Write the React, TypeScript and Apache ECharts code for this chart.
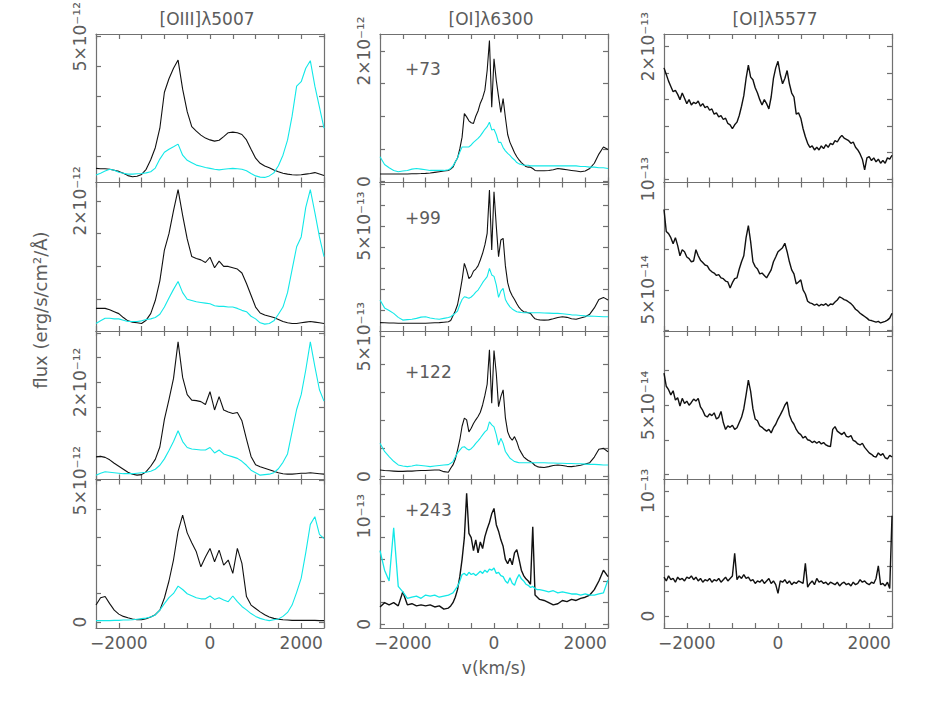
import React, { useEffect, useRef } from 'react';
import * as echarts from 'echarts';

// velocity sampling grids (km/s)
const range = (a: number, b: number, s: number) => {
  const out: number[] = [];
  for (let v = a; v <= b + 1e-9; v += s) out.push(Math.round(v));
  return out;
};
const V1 = range(-2500, 2500, 100);
const V2 = [...range(-2500, -1100, 100), ...range(-1000, 1000, 50), ...range(1100, 2500, 100)];
const V3 = range(-2500, 2500, 50);

// [OIII] 5007, units 1e-12
const c1r1Black = [0.61, 0.60, 0.60, 0.58, 0.55, 0.51, 0.45, 0.37, 0.33, 0.35,
  0.41, 0.58, 0.9, 1.3, 1.95, 3.15, 3.6, 3.95, 4.22, 3.25,
  2.5, 2.0, 1.85, 1.72, 1.62, 1.56, 1.52, 1.55, 1.67, 1.8,
  1.82, 1.8, 1.74, 1.56, 1.25, 0.95, 0.78, 0.69, 0.63, 0.56,
  0.5, 0.45, 0.42, 0.4, 0.39, 0.4, 0.42, 0.44, 0.47, 0.42, 0.37];
const c1r1Cyan = [0.39, 0.45, 0.52, 0.58, 0.55, 0.48, 0.45, 0.42, 0.42, 0.43,
  0.44, 0.46, 0.5, 0.62, 0.92, 1.15, 1.25, 1.33, 1.42, 1.05,
  0.88, 0.8, 0.72, 0.68, 0.64, 0.61, 0.58, 0.56, 0.58, 0.6,
  0.61, 0.6, 0.58, 0.53, 0.44, 0.36, 0.32, 0.31, 0.36, 0.46,
  0.7, 1.05, 1.55, 2.35, 3.35, 3.5, 3.95, 4.2, 3.35, 2.65, 1.95];
const c1r2Black = [0.36, 0.36, 0.36, 0.34, 0.31, 0.28, 0.22, 0.17, 0.15, 0.14,
  0.13, 0.18, 0.28, 0.48, 0.78, 1.25, 1.5, 1.85, 2.17, 1.78,
  1.42, 1.15, 1.12, 1.1, 1.06, 1.14, 0.98, 1.08, 1.0, 1.0,
  0.98, 0.96, 0.9, 0.74, 0.56, 0.38, 0.29, 0.26, 0.24, 0.22,
  0.19, 0.16, 0.14, 0.13, 0.13, 0.14, 0.15, 0.16, 0.15, 0.14, 0.13];
const c1r2Cyan = [0.13, 0.17, 0.21, 0.21, 0.2, 0.2, 0.18, 0.16, 0.16, 0.16,
  0.17, 0.19, 0.2, 0.22, 0.27, 0.38, 0.52, 0.65, 0.77, 0.6,
  0.5, 0.48, 0.46, 0.45, 0.44, 0.43, 0.4, 0.39, 0.39, 0.38,
  0.38, 0.36, 0.33, 0.31, 0.24, 0.2, 0.14, 0.12, 0.13, 0.17,
  0.27, 0.38, 0.6, 0.95, 1.3, 1.45, 1.9, 2.17, 1.82, 1.45, 1.15];
const c1r3Black = [0.49, 0.5, 0.48, 0.43, 0.36, 0.3, 0.24, 0.18, 0.14, 0.12,
  0.13, 0.19, 0.3, 0.44, 0.69, 1.25, 1.65, 2.08, 2.82, 2.1,
  1.75, 1.64, 1.63, 1.61, 1.55, 1.81, 1.44, 1.71, 1.44, 1.4,
  1.37, 1.39, 1.22, 0.85, 0.5, 0.33, 0.29, 0.26, 0.23, 0.2,
  0.17, 0.15, 0.14, 0.14, 0.15, 0.16, 0.16, 0.17, 0.16, 0.15, 0.14];
const c1r3Cyan = [0.12, 0.16, 0.19, 0.18, 0.17, 0.16, 0.15, 0.15, 0.15, 0.16,
  0.17, 0.18, 0.2, 0.24, 0.32, 0.45, 0.62, 0.8, 1.02, 0.8,
  0.68, 0.65, 0.64, 0.63, 0.63, 0.68, 0.57, 0.63, 0.55, 0.52,
  0.49, 0.46, 0.4, 0.32, 0.22, 0.17, 0.12, 0.13, 0.14, 0.17,
  0.25, 0.38, 0.55, 1.0, 1.45, 1.75, 2.25, 2.82, 2.32, 1.85, 1.62];
const c1r4Black = [0.6, 0.86, 0.9, 0.65, 0.42, 0.28, 0.2, 0.15, 0.11, 0.08,
  0.08, 0.12, 0.18, 0.26, 0.42, 0.85, 1.45, 2.2, 3.2, 3.78,
  3.15, 2.8, 2.48, 1.95, 2.3, 2.6, 2.13, 2.54, 2.01, 2.19,
  1.72, 2.6, 2.07, 0.9, 0.6, 0.48, 0.36, 0.26, 0.18, 0.13,
  0.1, 0.08, 0.07, 0.06, 0.06, 0.06, 0.06, 0.06, 0.06, 0.05, 0.05];
const c1r4Cyan = [0.05, 0.05, 0.05, 0.05, 0.06, 0.06, 0.07, 0.07, 0.08, 0.1,
  0.12, 0.14, 0.18, 0.25, 0.42, 0.65, 0.86, 1.01, 1.27, 1.15,
  1.0, 0.93, 0.86, 0.82, 0.82, 0.92, 0.8, 0.86, 0.78, 0.72,
  0.92, 0.72, 0.55, 0.43, 0.3, 0.2, 0.13, 0.08, 0.05, 0.08,
  0.11, 0.2, 0.34, 0.6, 1.05, 1.55, 2.45, 3.45, 3.72, 3.1, 2.95];

// [OI] 6300 (row 1: 1e-12, rows 2-4: 1e-13)
const c2r1Black = [0.115, 0.115, 0.115, 0.115, 0.115, 0.115, 0.115, 0.118, 0.12, 0.122, 0.125, 0.13, 0.14, 0.15, 0.16,
  0.17, 0.19, 0.22, 0.3, 0.36, 0.5, 0.68, 1.04, 0.99, 0.93,
  0.9, 0.89, 1.0, 1.08, 1.2, 1.28, 1.4, 1.7, 2.16, 1.14,
  1.88, 1.55, 1.3, 1.06, 1.27, 0.98, 0.72, 0.6, 0.52, 0.44,
  0.38, 0.33, 0.29, 0.26, 0.23, 0.22, 0.22, 0.2, 0.17, 0.165, 0.165,
  0.165, 0.17, 0.18, 0.2, 0.19, 0.18, 0.17, 0.16, 0.15, 0.16, 0.2, 0.28, 0.42, 0.53, 0.49];
const c2r1Cyan = [0.38, 0.26, 0.21, 0.17, 0.15, 0.16, 0.17, 0.19, 0.2, 0.19, 0.18, 0.17, 0.17, 0.17, 0.17,
  0.18, 0.2, 0.24, 0.3, 0.36, 0.45, 0.53, 0.53, 0.53, 0.53,
  0.56, 0.6, 0.63, 0.66, 0.7, 0.75, 0.8, 0.84, 0.91, 0.79,
  0.8, 0.72, 0.6, 0.6, 0.52, 0.47, 0.43, 0.4, 0.36, 0.33,
  0.29, 0.27, 0.26, 0.25, 0.25, 0.25, 0.24, 0.24, 0.24, 0.24, 0.24,
  0.24, 0.24, 0.24, 0.24, 0.24, 0.24, 0.24, 0.24, 0.23, 0.23, 0.22, 0.22, 0.21, 0.21, 0.2];
const c2r2Black = [0.4, 0.39, 0.38, 0.38, 0.37, 0.37, 0.37, 0.37, 0.37, 0.37, 0.37, 0.38, 0.39, 0.4, 0.42,
  0.44, 0.5, 0.72, 0.95, 1.25, 1.8, 2.43, 3.22, 2.9, 2.5,
  2.6, 2.85, 2.95, 3.1, 3.38, 3.7, 4.1, 4.65, 6.71, 3.86,
  6.63, 5.0, 3.54, 4.33, 4.41, 3.1, 2.3, 1.9, 1.68, 1.5,
  1.3, 1.12, 1.0, 0.92, 0.9, 0.87, 0.84, 0.7, 0.58, 0.55, 0.53,
  0.52, 0.53, 0.58, 0.64, 0.68, 0.65, 0.58, 0.56, 0.62, 0.68, 0.8, 1.1, 1.5, 1.6, 1.48];
const c2r2Cyan = [1.48, 1.1, 0.98, 0.84, 0.65, 0.52, 0.54, 0.56, 0.6, 0.66, 0.68, 0.62, 0.58, 0.56, 0.6,
  0.64, 0.68, 0.76, 0.85, 0.95, 1.25, 1.5, 1.63, 1.6, 1.56,
  1.62, 1.72, 1.85, 1.95, 2.12, 2.3, 2.45, 2.59, 2.98, 2.67,
  2.6, 2.2, 1.6, 1.9, 2.03, 1.5, 1.3, 1.15, 1.05, 0.98,
  0.92, 0.9, 0.88, 0.87, 0.87, 0.87, 0.87, 0.87, 0.87, 0.87, 0.87,
  0.86, 0.85, 0.84, 0.84, 0.82, 0.8, 0.77, 0.76, 0.74, 0.72, 0.71, 0.7, 0.69, 0.68, 0.68];
const c2r3Black = [0.24, 0.22, 0.21, 0.2, 0.19, 0.19, 0.2, 0.2, 0.21, 0.22, 0.22, 0.23, 0.24, 0.24, 0.18,
  0.16, 0.3, 0.42, 0.62, 0.95, 1.31, 1.8, 2.09, 2.03, 1.6,
  1.73, 1.9, 2.03, 2.15, 2.3, 2.56, 2.9, 3.3, 4.53, 2.62,
  4.5, 3.69, 2.5, 2.86, 3.1, 2.1, 1.6, 1.4, 1.3, 1.43,
  1.25, 1.0, 0.85, 0.71, 0.64, 0.58, 0.54, 0.48, 0.4, 0.36, 0.34,
  0.33, 0.36, 0.4, 0.42, 0.4, 0.37, 0.36, 0.38, 0.41, 0.45, 0.5, 0.7, 0.98, 1.01, 0.89];
const c2r3Cyan = [1.19, 0.9, 0.72, 0.55, 0.42, 0.38, 0.36, 0.38, 0.42, 0.4, 0.38, 0.36, 0.38, 0.4, 0.42,
  0.43, 0.48, 0.54, 0.7, 0.85, 0.95, 1.05, 1.07, 1.0, 0.95,
  1.0, 1.08, 1.19, 1.28, 1.38, 1.49, 1.6, 1.67, 1.96, 1.85,
  1.78, 1.5, 1.13, 1.37, 1.19, 0.9, 0.78, 0.66, 0.6, 0.54,
  0.52, 0.5, 0.5, 0.5, 0.5, 0.5, 0.5, 0.5, 0.5, 0.5, 0.5,
  0.5, 0.49, 0.49, 0.48, 0.48, 0.47, 0.47, 0.46, 0.46, 0.45, 0.44, 0.44, 0.43, 0.42, 0.42];
const c2r4Black = [0.16, 0.2, 0.18, 0.2, 0.17, 0.3, 0.18, 0.19, 0.17, 0.18, 0.17, 0.18, 0.16, 0.17, 0.14,
  0.15, 0.17, 0.2, 0.25, 0.32, 0.44, 0.6, 0.8, 1.21, 0.84,
  0.8, 0.68, 0.78, 0.66, 0.76, 0.7, 0.81, 0.88, 0.94, 1.02,
  1.07, 0.92, 0.86, 0.78, 0.72, 0.6, 0.56, 0.61, 0.55, 0.66,
  0.69, 0.6, 0.5, 0.45, 0.42, 0.4, 0.37, 0.9, 0.27, 0.25, 0.23,
  0.22, 0.2, 0.18, 0.19, 0.22, 0.21, 0.23, 0.22, 0.24, 0.25, 0.27, 0.32, 0.4, 0.5, 0.44];
const c2r4Cyan = [0.68, 0.5, 0.4, 0.89, 0.35, 0.3, 0.24, 0.25, 0.26, 0.24, 0.27, 0.26, 0.27, 0.25, 0.26,
  0.27, 0.28, 0.29, 0.32, 0.35, 0.4, 0.46, 0.47, 0.45, 0.48,
  0.46, 0.47, 0.45, 0.47, 0.49, 0.47, 0.5, 0.48, 0.51, 0.5,
  0.52, 0.47, 0.48, 0.45, 0.44, 0.4, 0.38, 0.43, 0.38, 0.36,
  0.42, 0.46, 0.42, 0.4, 0.37, 0.36, 0.34, 0.35, 0.33, 0.32, 0.32,
  0.31, 0.3, 0.31, 0.29, 0.3, 0.29, 0.28, 0.28, 0.27, 0.28, 0.27, 0.27, 0.28, 0.29, 0.41];

// [OI] 5577 (rows 1,4: 1e-13; rows 2,3: 1e-14)
const c3r1Black = [1.84, 1.79, 1.74, 1.7, 1.66, 1.67, 1.64, 1.6, 1.65, 1.61,
  1.57, 1.6, 1.56, 1.58, 1.57, 1.59, 1.55, 1.57, 1.54, 1.55,
  1.52, 1.53, 1.49, 1.5, 1.47, 1.48, 1.45, 1.46, 1.42, 1.41,
  1.38, 1.41, 1.43, 1.48, 1.55, 1.63, 1.76, 1.86, 1.77, 1.75,
  1.69, 1.65, 1.6, 1.56, 1.6, 1.57, 1.53, 1.62, 1.76, 1.84,
  1.89, 1.79, 1.72, 1.76, 1.82, 1.72, 1.65, 1.62, 1.49, 1.5,
  1.46, 1.38, 1.32, 1.27, 1.24, 1.25, 1.22, 1.24, 1.22, 1.25,
  1.23, 1.26, 1.24, 1.27, 1.26, 1.29, 1.28, 1.31, 1.33, 1.31,
  1.3, 1.29, 1.27, 1.28, 1.24, 1.22, 1.19, 1.15, 1.07, 1.16,
  1.17, 1.14, 1.16, 1.13, 1.15, 1.12, 1.14, 1.12, 1.16, 1.15, 1.18];
const c3r2Black = [7.0, 6.45, 6.4, 6.3, 6.15, 6.3, 6.1, 5.85, 6.0, 5.95,
  5.82, 5.78, 5.7, 5.72, 6.0, 5.85, 5.74, 5.68, 5.62, 5.6,
  5.5, 5.45, 5.42, 5.36, 5.38, 5.3, 5.28, 5.22, 5.2, 5.05,
  5.18, 5.28, 5.3, 5.52, 5.7, 5.85, 6.3, 6.6, 6.2, 5.7,
  5.58, 5.52, 5.4, 5.42, 5.36, 5.3, 5.4, 5.5, 5.7, 5.82,
  5.95, 6.0, 6.05, 6.16, 5.95, 5.7, 5.5, 5.4, 5.15, 5.2,
  5.25, 5.0, 4.9, 4.72, 4.68, 4.66, 4.62, 4.65, 4.6, 4.64,
  4.62, 4.66, 4.6, 4.65, 4.64, 4.7, 4.75, 4.83, 4.8, 4.76,
  4.74, 4.7, 4.66, 4.6, 4.52, 4.48, 4.42, 4.38, 4.34, 4.3,
  4.25, 4.24, 4.22, 4.2, 4.22, 4.18, 4.2, 4.22, 4.25, 4.3, 4.42];
const c3r3Black = [5.93, 5.55, 5.45, 5.3, 5.42, 5.15, 5.22, 4.98, 5.2, 5.05,
  5.12, 5.0, 5.08, 5.18, 5.12, 5.2, 4.95, 4.85, 4.7, 4.66,
  4.75, 4.7, 4.78, 4.6, 4.65, 4.82, 4.5, 4.3, 4.4, 4.36,
  4.42, 4.3, 4.35, 4.5, 4.65, 4.9, 5.3, 5.73, 5.4, 4.9,
  4.6, 4.55, 4.4, 4.36, 4.3, 4.25, 4.3, 4.2, 4.35, 4.45,
  4.6, 4.72, 4.85, 5.0, 5.1, 4.72, 4.55, 4.45, 4.3, 4.2,
  4.15, 4.05, 4.1, 4.0, 3.98, 3.92, 3.96, 3.9, 3.95, 3.88,
  3.92, 3.85, 3.82, 3.8, 4.3, 4.38, 4.25, 4.2, 4.15, 4.22,
  4.1, 4.08, 4.12, 3.98, 3.95, 3.88, 3.85, 3.9, 3.78, 3.7,
  3.62, 3.58, 3.52, 3.5, 3.62, 3.55, 3.6, 3.48, 3.45, 3.55, 3.5];
const c3r4Black = [0.31, 0.28, 0.32, 0.29, 0.3, 0.27, 0.31, 0.29, 0.3, 0.28,
  0.31, 0.3, 0.32, 0.29, 0.31, 0.28, 0.3, 0.27, 0.29, 0.28,
  0.3, 0.27, 0.29, 0.28, 0.3, 0.27, 0.29, 0.31, 0.28, 0.3,
  0.32, 0.5, 0.29, 0.32, 0.3, 0.33, 0.3, 0.31, 0.28, 0.29,
  0.26, 0.28, 0.27, 0.29, 0.26, 0.28, 0.3, 0.26, 0.28, 0.25,
  0.18, 0.28, 0.27, 0.29, 0.26, 0.28, 0.25, 0.27, 0.26, 0.28,
  0.27, 0.26, 0.42, 0.23, 0.26, 0.28, 0.25, 0.3, 0.27, 0.28,
  0.26, 0.27, 0.25, 0.27, 0.26, 0.25, 0.27, 0.24, 0.26, 0.27,
  0.25, 0.26, 0.24, 0.27, 0.25, 0.26, 0.29, 0.27, 0.28, 0.26,
  0.25, 0.27, 0.26, 0.3, 0.4, 0.25, 0.26, 0.24, 0.27, 0.22, 0.8];

const titles = ['[OIII]λ5007', '[OI]λ6300', '[OI]λ5577'];
const epochs = ['+73', '+99', '+122', '+243'];
const xTickLabels = [-2000, 0, 2000];

type Panel = {
  col: number; row: number; v: number[]; black: number[]; cyan: number[] | null;
  yMin: number; yMax: number; ticks: number[]; labels: [number, string][]; noisy?: boolean;
};

const panels: Panel[] = [
  { col: 0, row: 0, v: V1, black: c1r1Black, cyan: c1r1Cyan, yMin: 0.14, yMax: 5.09, ticks: [1, 2, 3, 4, 5], labels: [[5, '5×10⁻¹²']] },
  { col: 0, row: 1, v: V1, black: c1r2Black, cyan: c1r2Cyan, yMin: 0.015, yMax: 2.28, ticks: [0.5, 1, 1.5, 2], labels: [[2, '2×10⁻¹²']] },
  { col: 0, row: 2, v: V1, black: c1r3Black, cyan: c1r3Cyan, yMin: 0.032, yMax: 3.04, ticks: [0.5, 1, 1.5, 2, 2.5, 3], labels: [[2, '2×10⁻¹²']] },
  { col: 0, row: 3, v: V1, black: c1r4Black, cyan: c1r4Cyan, yMin: -0.21, yMax: 5.035, ticks: [0, 1, 2, 3, 4, 5], labels: [[0, '0'], [5, '5×10⁻¹²']] },
  { col: 1, row: 0, v: V2, black: c2r1Black, cyan: c2r1Cyan, yMin: -0.015, yMax: 2.26, ticks: [0, 0.5, 1, 1.5, 2], labels: [[0, '0'], [2, '2×10⁻¹²']] },
  { col: 1, row: 1, v: V2, black: c2r2Black, cyan: c2r2Cyan, yMin: 0, yMax: 7.07, ticks: [1, 2, 3, 4, 5, 6, 7], labels: [[5, '5×10⁻¹³']] },
  { col: 1, row: 2, v: V2, black: c2r3Black, cyan: c2r3Cyan, yMin: -0.1, yMax: 5.2, ticks: [0, 1, 2, 3, 4, 5], labels: [[0, '0'], [5, '5×10⁻¹³']] },
  { col: 1, row: 3, v: V2, black: c2r4Black, cyan: c2r4Cyan, yMin: -0.034, yMax: 1.337, ticks: [0, 0.2, 0.4, 0.6, 0.8, 1, 1.2], labels: [[0, '0'], [1, '10⁻¹³']], noisy: true },
  { col: 2, row: 0, v: V3, black: c3r1Black, cyan: null, yMin: 0.974, yMax: 2.096, ticks: [1, 1.2, 1.4, 1.6, 1.8, 2], labels: [[1, '10⁻¹³'], [2, '2×10⁻¹³']], noisy: true },
  { col: 2, row: 1, v: V3, black: c3r2Black, cyan: null, yMin: 3.98, yMax: 7.67, ticks: [4, 5, 6, 7], labels: [[5, '5×10⁻¹⁴']], noisy: true },
  { col: 2, row: 2, v: V3, black: c3r3Black, cyan: null, yMin: 2.85, yMax: 7.15, ticks: [3, 4, 5, 6, 7], labels: [[5, '5×10⁻¹⁴']], noisy: true },
  { col: 2, row: 3, v: V3, black: c3r4Black, cyan: null, yMin: -0.096, yMax: 1.09, ticks: [0, 0.2, 0.4, 0.6, 0.8, 1], labels: [[0, '0'], [1, '10⁻¹³']], noisy: true },
];

// layout
const COL_LEFT = [96, 380, 664];
const ROW_TOP = [34, 182.5, 331, 479.5];
const PW = 228;
const PH = 148.5;
const EPOCH_DY = [35, 35, 41, 30];

const FONT = 'DejaVu Sans';
const TXT = '#5c5c5c';
const FRAME = '#707070';
const BLACK = '#111';
const CYAN = '#12e8e8';

export default function App() {
  const ref = useRef<HTMLDivElement>(null);
  useEffect(() => {
    if (!ref.current) return;
    const chart = echarts.init(ref.current, undefined, { renderer: 'svg' });
    const line = { lineStyle: { color: FRAME, width: 1.2 } };
    const grid: any[] = [];
    const xAxis: any[] = [];
    const yAxis: any[] = [];
    const series: any[] = [];
    panels.forEach((p, i) => {
      grid.push({ left: COL_LEFT[p.col], top: ROW_TOP[p.row], width: PW, height: PH, containLabel: false, outerBoundsMode: 'none' });
      ['bottom', 'top'].forEach((pos) => {
        const showLab = pos === 'bottom' && p.row === 3;
        xAxis.push({
          type: 'value', gridIndex: i, position: pos, min: -2500, max: 2500, interval: 500,
          axisLine: { show: true, onZero: false, ...line },
          axisTick: { show: true, inside: true, length: 5, ...line },
          splitLine: { show: false },
          axisLabel: showLab ? {
            show: true, customValues: xTickLabels, margin: 6,
            formatter: (v: number) => (v < 0 ? '−' + Math.abs(v) : String(v)),
            fontSize: 17, fontFamily: FONT, color: TXT,
          } : { show: false },
        });
      });
      ['left', 'right'].forEach((pos) => {
        yAxis.push({
          type: 'value', gridIndex: i, position: pos, min: p.yMin, max: p.yMax,
          axisLine: { show: true, onZero: false, ...line },
          axisTick: { show: true, inside: true, length: 5, customValues: p.ticks, ...line },
          splitLine: { show: false },
          axisLabel: { show: false },
        });
      });
      series.push({
        type: 'line', xAxisIndex: 2 * i, yAxisIndex: 2 * i, showSymbol: false, symbol: 'none',
        data: p.v.map((x, k) => [x, p.black[k]]), lineStyle: { color: BLACK, width: p.noisy ? 1.4 : 1.1 }, silent: true, z: 2,
      });
      if (p.cyan) {
        series.push({
          type: 'line', xAxisIndex: 2 * i, yAxisIndex: 2 * i, showSymbol: false, symbol: 'none',
          data: p.v.map((x, k) => [x, p.cyan![k]]), lineStyle: { color: CYAN, width: p.noisy ? 1.3 : 1.1 }, silent: true, z: 3,
        });
      }
    });
    chart.setOption({ animation: false, backgroundColor: '#fff', grid, xAxis, yAxis, series });

    const txt = (text: string, x: number, y: number, rot = 0, size = 17) => ({
      type: 'text', x, y, rotation: rot, silent: true,
      style: { text, fontSize: size, fontFamily: FONT, fill: TXT, align: 'center', verticalAlign: 'middle', textAlign: 'center', textVerticalAlign: 'middle' },
    });
    const graphics: any[] = [];
    titles.forEach((t, c) => graphics.push(txt(t, COL_LEFT[c] + PW / 2 - 3, 18.5)));
    epochs.forEach((t, r) => graphics.push({
      type: 'text', x: COL_LEFT[1] + 25, y: ROW_TOP[r] + EPOCH_DY[r], silent: true,
      style: { text: t, fontSize: 17, fontFamily: FONT, fill: TXT, align: 'left', verticalAlign: 'middle' },
    }));
    graphics.push(txt('flux (erg/s/cm²/Å)', 40, 310, Math.PI / 2, 18));
    graphics.push(txt('v(km/s)', COL_LEFT[1] + PW / 2, 668));
    panels.forEach((p, i) => {
      p.labels.forEach(([val, text]) => {
        const py = chart.convertToPixel({ yAxisIndex: 2 * i } as any, val) as unknown as number;
        graphics.push(txt(text, COL_LEFT[p.col] - 16, py, Math.PI / 2));
      });
    });
    chart.setOption({ graphic: graphics });
    return () => chart.dispose();
  }, []);
  return <div ref={ref} style={{ position: 'absolute', left: 0, top: 0, width: 948, height: 708 }} />;
}
